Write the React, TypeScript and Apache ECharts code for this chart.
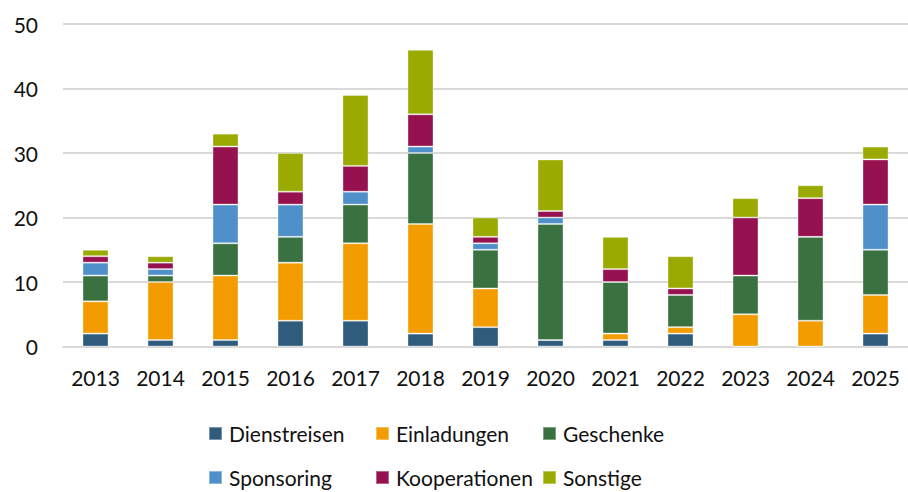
import React, { useEffect, useRef } from "react";
import * as echarts from "echarts";

const years = ["2013", "2014", "2015", "2016", "2017", "2018", "2019", "2020", "2021", "2022", "2023", "2024", "2025"];
const dienstreisen = [2, 1, 1, 4, 4, 2, 3, 1, 1, 2, 0, 0, 2];
const einladungen = [5, 9, 10, 9, 12, 17, 6, 0, 1, 1, 5, 4, 6];
const geschenke = [4, 1, 5, 4, 6, 11, 6, 18, 8, 5, 6, 13, 7];
const sponsoring = [2, 1, 6, 5, 2, 1, 1, 1, 0, 0, 0, 0, 7];
const kooperationen = [1, 1, 9, 2, 4, 5, 1, 1, 2, 1, 9, 6, 7];
const sonstige = [1, 1, 2, 6, 11, 10, 3, 8, 5, 5, 3, 2, 2];
const yTicks = [0, 10, 20, 30, 40, 50];

const seriesDefs = [
  { name: "Dienstreisen", data: dienstreisen, color: "#2F5B7D" },
  { name: "Einladungen", data: einladungen, color: "#F39C00" },
  { name: "Geschenke", data: geschenke, color: "#3A7140" },
  { name: "Sponsoring", data: sponsoring, color: "#4F90CB" },
  { name: "Kooperationen", data: kooperationen, color: "#96114F" },
  { name: "Sonstige", data: sonstige, color: "#9AAA00" },
];

const legendPos = [
  { left: 208, top: 423 },
  { left: 375, top: 423 },
  { left: 542, top: 423 },
  { left: 208, top: 467 },
  { left: 375, top: 467 },
  { left: 542, top: 467 },
];

const FONT = "Lato, 'Noto Sans', sans-serif";

export default function App() {
  const ref = useRef<HTMLDivElement>(null);
  useEffect(() => {
    if (!ref.current) return;
    const chart = echarts.init(ref.current, null, { renderer: "svg" });
    chart.setOption({
      animation: false,
      textStyle: { fontFamily: FONT },
      grid: { left: 63, top: 24, width: 854, height: 322.5, containLabel: false },
      xAxis: {
        type: "category",
        data: years,
        axisLine: { show: true, lineStyle: { color: "#d9d9d9", width: 2 } },
        axisTick: { show: false },
        axisLabel: { fontSize: 21, color: "#111111", margin: 20, fontFamily: FONT },
      },
      yAxis: {
        type: "value",
        min: yTicks[0],
        max: yTicks[yTicks.length - 1],
        interval: 10,
        axisLine: { show: false },
        axisTick: { show: false },
        splitLine: { lineStyle: { color: "#d9d9d9", width: 2 } },
        axisLabel: { fontSize: 21, color: "#111111", margin: 25, fontFamily: FONT },
      },
      legend: seriesDefs.map((s, i) => ({
        data: [s.name],
        left: legendPos[i].left,
        top: legendPos[i].top,
        icon: "rect",
        itemWidth: 13,
        itemHeight: 13,
        padding: 0,
        textStyle: { fontSize: 21, color: "#111111", fontFamily: FONT, padding: [0, 0, 0, 2] },
      })),
      series: seriesDefs.map((s) => ({
        name: s.name,
        type: "bar",
        stack: "total",
        data: s.data,
        barWidth: "40%",
        itemStyle: { color: s.color, borderColor: "rgba(255,255,255,0.35)", borderWidth: 1 },
      })),
    });
    return () => chart.dispose();
  }, []);
  return <div ref={ref} style={{ width: 908, height: 492, position: "absolute", left: 0, top: 0 }} />;
}
